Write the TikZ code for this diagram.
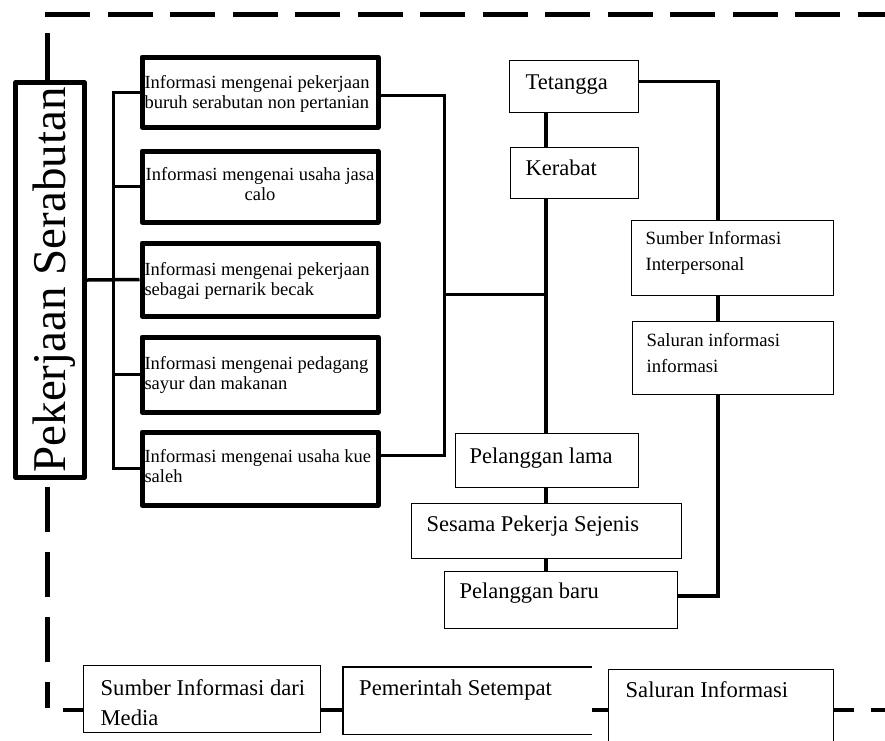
\documentclass[tikz,border=0pt]{standalone}
\usepackage{fontspec}
\setmainfont{Liberation Serif}
\newcommand\bt[7]{\parbox[c][#2pt][t]{#1pt}{\fontsize{#3pt}{#4pt}\selectfont\raggedright\leftskip=#5pt\relax\vspace*{\dimexpr#6pt-0.75em\relax}\rule{0pt}{0.75em}#7}}
\begin{document}
\begin{tikzpicture}[x=1pt,y=-1pt,
  thickbox/.style={draw, line width=5pt, line join=round, inner sep=0pt, anchor=north west},
  thinbox/.style={draw, line width=1.3pt, inner sep=0pt, anchor=north west},
  openbox/.style={inner sep=0pt, anchor=north west},
  conn/.style={line width=3pt},
  wconn/.style={line width=3.5pt},
  bconn/.style={line width=4.5pt},
  framel/.style={line width=5pt}]
\clip (0,0) rectangle (885,740);

% vertical label
\node[draw, line width=5pt, line join=round, rotate=90, minimum width=395pt, minimum height=69pt,
      inner sep=0pt, text height=35pt, text depth=5pt, font=\fontsize{47pt}{50pt}\selectfont]
  (lab) at (50,280) {Pekerjaan Serabutan};

% left column boxes
\node[thickbox] (b1) at (139.5,54.5) {\bt{236}{70}{18.5}{20}{2.5}{31.5}{Informasi mengenai pekerjaan\\buruh serabutan non pertanian}};
\node[thickbox] (b2) at (139.5,148.5) {\bt{236}{71}{18.5}{20}{2.5}{29.5}{\centering Informasi mengenai usaha jasa\\calo}};
\node[thickbox] (b3) at (139.5,240.5) {\bt{236}{73}{18.5}{20}{2.5}{32.5}{Informasi mengenai pekerjaan\\sebagai pernarik becak}};
\node[thickbox] (b4) at (139.5,334.5) {\bt{236}{75}{18.5}{20}{2.5}{32.5}{Informasi mengenai pedagang\\sayur dan makanan}};
\node[thickbox] (b5) at (139.5,429.5) {\bt{236}{73}{18.5}{20}{2.5}{30.5}{Informasi mengenai usaha kue\\saleh}};

% middle column
\node[thinbox] (tet) at (509,60) {\bt{129}{52}{22.5}{26}{16}{29}{Tetangga}};
\node[thinbox] (ker) at (510,147) {\bt{128}{51}{22.5}{26}{15}{28}{Kerabat}};
\node[thinbox] (pl) at (455,433) {\bt{183}{54}{22.5}{26}{14}{30}{Pelanggan lama}};
\node[thinbox] (ses) at (411,503) {\bt{270}{55}{22.5}{26}{15}{28}{Sesama Pekerja Sejenis}};
\node[thinbox] (pb) at (444,571) {\bt{233}{57}{22.5}{26}{15}{27}{Pelanggan baru}};

% right column
\node[thinbox] (sip) at (631,220) {\bt{202}{75}{18.7}{26}{14}{24}{Sumber Informasi\\Interpersonal}};
\node[thinbox] (sali) at (632,321) {\bt{201}{73}{18.7}{26}{14}{25}{Saluran informasi\\informasi}};

% bottom row
\node[thinbox] (summ) at (83,665) {\bt{237}{67}{22.6}{30}{17}{30}{Sumber Informasi dari\\Media}};
\node[openbox] (pem) at (343,667) {\bt{249}{67}{22.6}{30}{16}{28}{Pemerintah Setempat}};
\draw[line width=1.3pt] (pem.north east) -- (pem.north west) -- (pem.south west) -- (pem.south east);
\node[thinbox] (salb) at (608,669) {\bt{225}{90}{22.6}{30}{17}{28}{Saluran Informasi}};

% coordinates
\coordinate (ls) at (113,0);
\coordinate (cx) at (444,294);
\coordinate (mid) at (546,294);
\coordinate (rx) at (718,0);
\coordinate (bl) at (63,710);
\coordinate (br) at (885,710);
\coordinate (ftl) at (45,14);
\coordinate (ftr) at (885,14);
\coordinate (fv) at (47,33);
\coordinate (fb) at (47,708);

% left connectors
\draw[conn] (b1.west) -- (b1.west -| ls) -- (b5.west -| ls) -- (b5.west);
\draw[conn] (b2.west -| ls) -- (b2.west);
\draw[conn] (b4.west -| ls) -- (b4.west);
\draw[wconn] (lab.south) -- (b3.west);

% right of left column
\draw[conn] ([yshift=-3pt]b1.east) -| (cx) |- ([yshift=13pt]b5.east);
\draw[conn] (cx) -- (mid);

% middle spine
\draw[wconn] (tet.south -| mid) -- (ker.north -| mid);
\draw[wconn] (ker.south -| mid) -- (pl.north -| mid);
\draw[wconn] (pl.south -| mid) -- (ses.north -| mid);
\draw[wconn] (ses.south -| mid) -- (pb.north -| mid);

% right spine
\draw[wconn] ([yshift=5pt]tet.east) -| (sip.north -| rx);
\draw[wconn] (sip.south -| rx) -- (sali.north -| rx);
\draw[wconn] (sali.south -| rx) |- ([yshift=4pt]pb.east);

% bottom connectors
\draw[bconn] (bl) -- (summ.west |- bl);
\draw[bconn] (summ.east |- bl) -- (pem.west |- bl);
\draw[bconn] (pem.east |- bl) -- (salb.west |- bl);
\draw[bconn, dash pattern=on 20pt off 17pt] (salb.east |- bl) -- (br);

% dashed frame
\draw[framel, dash pattern=on 45pt off 17.5pt] (ftl) -- (ftr);
\draw[framel] (fv |- lab.east) -- (fv);
\draw[framel, dash pattern=on 45pt off 20pt, dash phase=58pt] (fv |- lab.west) -- (fb);
\end{tikzpicture}
\end{document}
